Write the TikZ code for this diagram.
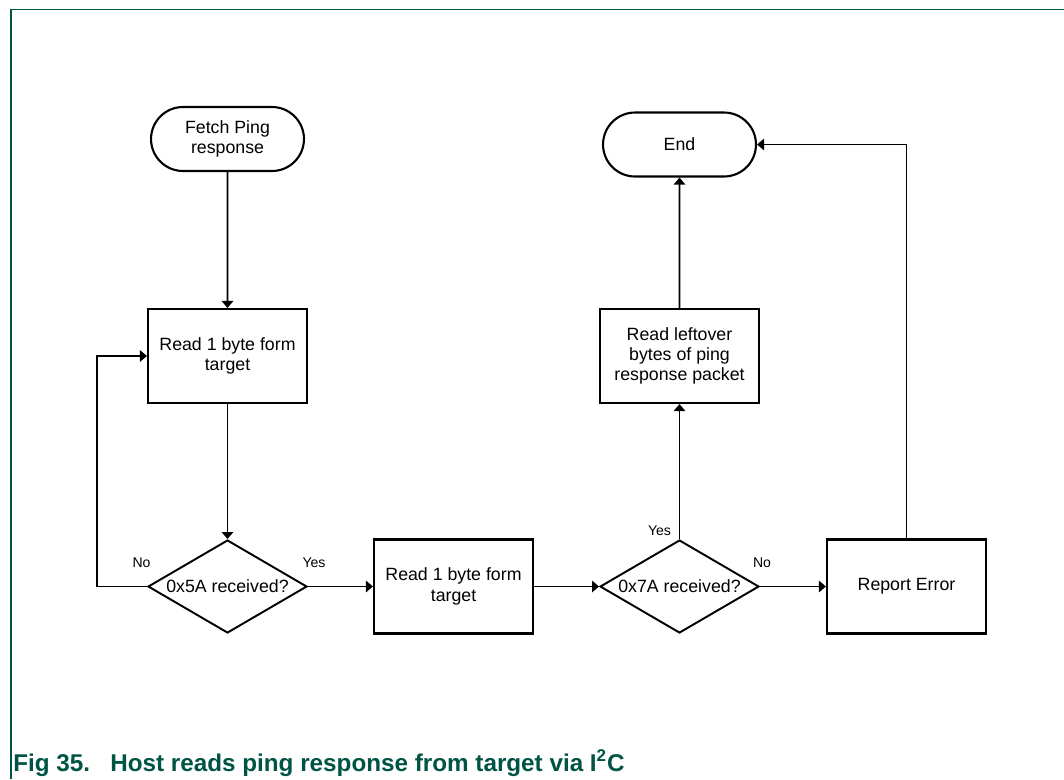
\documentclass[tikz,border=0pt]{standalone}
\usepackage{fontspec}
\setmainfont{Liberation Sans}
\usetikzlibrary{arrows.meta, shapes.geometric, shapes.misc}
\definecolor{nxpgreen}{RGB}{0,84,68}
\tikzset{
  terminal/.style={
    rounded rectangle, draw, line width=1.2pt, minimum width=3.2cm,
    minimum height=1.28cm, inner sep=2pt, align=center,
    font=\fontsize{10.1}{11.6}\selectfont
  },
  process/.style={
    rectangle, draw, line width=1.2pt, minimum width=3.18cm,
    minimum height=1.88cm, inner sep=2pt, align=center,
    font=\fontsize{10.1}{11.6}\selectfont
  },
  decision/.style={
    diamond, draw, line width=1.1pt, minimum width=3.18cm,
    minimum height=1.86cm, inner sep=0pt, aspect=1.7,
    font=\fontsize{10.1}{11.6}\selectfont
  },
  flow/.style={draw, line width=1pt, -{Triangle[length=4pt, width=6.5pt]}},
  branch/.style={inner sep=0pt, font=\fontsize{8}{9.6}\selectfont},
  figcaption/.style={
    anchor=base west, text=nxpgreen, inner sep=0pt,
    font=\fontsize{13.8}{16}\selectfont\bfseries
  },
}

\begin{document}
\begin{tikzpicture}[x=0.02cm, y=-0.02cm]
  \useasboundingbox (0,0) rectangle (1064,779);
  % frame
  \draw[nxpgreen, line width=0.8pt] (11,779) -- (11,9.5) -- (1064,9.5);

  % left column
  \node[terminal] (fetch) at (227.5,139) {Fetch Ping\\response};
  \node[process] (readfirst) at (227.5,356) {Read 1 byte form\\target};
  \node[decision] (check5a) at (227.5,586.5) {0x5A received?};
  \coordinate (loopcorner) at (97,586.5);

  % bottom row
  \node[process] (readnext) at (453.5,586.5) {Read 1 byte form\\target};
  \node[decision] (check7a) at (679.5,586.5) {0x7A received?};
  \node[process] (report) at (906.5,586.5) {Report Error};

  % right column
  \node[process] (leftover) at (679.5,356) {Read leftover\\bytes of ping\\response packet};
  \node[terminal] (finish) at (679.5,144.5) {End};

  % branch labels
  \node[branch] (no5a) at (141.5,563) {No};
  \node[branch] (yes5a) at (314,563) {Yes};
  \node[branch] (yes7a) at (659.5,531) {Yes};
  \node[branch] (no7a) at (762,563) {No};

  % connectors
  \draw[flow] (fetch) -- (readfirst);
  \draw[flow] (readfirst) -- (check5a);
  \draw[flow] (check5a.west) -- (loopcorner) |- (readfirst.west);
  \draw[flow] (check5a) -- (readnext);
  \draw[flow] (readnext) -- (check7a);
  \draw[flow] (check7a) -- (leftover);
  \draw[flow] (leftover) -- (finish);
  \draw[flow] (check7a) -- (report);
  \draw[flow] (report.north) |- (finish.east);

  % caption
  \node[figcaption] (fignum) at (13,771) {Fig 35.};
  \node[figcaption] (figtitle) at (110,771) {Host reads ping response from target via I\textsuperscript{2}C};
\end{tikzpicture}
\end{document}
